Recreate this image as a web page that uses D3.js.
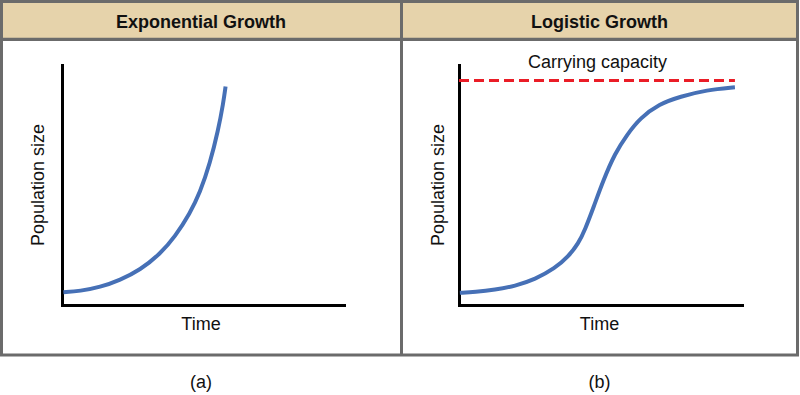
<!DOCTYPE html>
<html>
<head>
<meta charset="utf-8">
<script src="https://cdn.jsdelivr.net/npm/d3@7"></script>
<style>
  body { margin: 0; background: #fff; }
  text { font-family: "Liberation Sans", Arial, sans-serif; fill: #111; }
</style>
</head>
<body>
<div id="chart"></div>
<script>
// values (time 0-100, population 0-100)
const panelTitles = ["Exponential Growth", "Logistic Growth"];
const panelLabels = ["(a)", "(b)"];
const expTime = [0.5, 6.4, 13.5, 20.6, 27.7, 34.8, 40.1, 45.4, 48.9, 52.5, 55.4, 57.2, 58.0];
const expPop  = [5.3, 5.8, 7.4, 10.4, 14.6, 21.3, 28.5, 38.3, 46.7, 59.2, 72.9, 84.2, 91.0];
const logTime = [0.3, 5.7, 12.7, 19.8, 26.9, 33.9, 38.6, 42.2, 44.5, 47.5, 51.0, 55.1, 59.3, 63.9, 70.8, 78.1, 87.5, 97.5];
const logPop  = [5.1, 5.4, 6.3, 7.9, 10.7, 15.3, 20.1, 25.7, 31.3, 40.6, 52.0, 63.2, 70.8, 77.8, 83.8, 86.8, 89.6, 90.7];
const capacity = 93.5;
const capacitySpan = [0, 97.5];

const width = 800, height = 395;
const frameColor = "#6b6b6b";
const blue = "#4670b6";

const svg = d3.select("#chart").append("svg")
    .attr("width", width)
    .attr("height", height);

// header strip
svg.append("rect")
    .attr("x", 3).attr("y", 3)
    .attr("width", 794).attr("height", 35)
    .attr("fill", "#e6d3ab");

// frame
svg.append("rect")
    .attr("x", 1.5).attr("y", 1.5)
    .attr("width", 796).attr("height", 353.5)
    .attr("fill", "none")
    .attr("stroke", frameColor)
    .attr("stroke-width", 3);
svg.append("line")
    .attr("x1", 0).attr("x2", 799)
    .attr("y1", 39.3).attr("y2", 39.3)
    .attr("stroke", frameColor).attr("stroke-width", 3.3);
svg.append("line")
    .attr("x1", 401.5).attr("x2", 401.5)
    .attr("y1", 0).attr("y2", 356)
    .attr("stroke", frameColor).attr("stroke-width", 3);

const panels = [
  {x0: 62, x1: 344, cx: 201, labelX: 44, time: expTime, pop: expPop},
  {x0: 459, x1: 742, cx: 599.5, labelX: 444, time: logTime, pop: logPop}
];

const y = d3.scaleLinear().domain([0, 100]).range([305, 65]);

panels.forEach((p, i) => {
  const x = d3.scaleLinear().domain([0, 100]).range([p.x0, p.x1]);
  const g = svg.append("g");

  g.append("text")
      .attr("x", p.cx).attr("y", 27.5)
      .attr("text-anchor", "middle")
      .attr("font-size", 18).attr("font-weight", "bold")
      .text(panelTitles[i]);

  // axes without ticks
  const xAxis = g.append("g")
      .attr("transform", `translate(0,${y(0)})`)
      .call(d3.axisBottom(x).tickValues([]).tickSizeOuter(0));
  const yAxis = g.append("g")
      .attr("transform", `translate(${x(0)},0)`)
      .call(d3.axisLeft(y).tickValues([]).tickSizeOuter(0));
  [xAxis, yAxis].forEach(a => a.select(".domain")
      .attr("stroke", "#000")
      .attr("stroke-width", 3)
      .attr("stroke-linecap", "square"));

  g.append("text")
      .attr("x", p.cx).attr("y", 330)
      .attr("text-anchor", "middle")
      .attr("font-size", 18)
      .text("Time");

  g.append("text")
      .attr("transform", `translate(${p.labelX},${y(50)}) rotate(-90)`)
      .attr("text-anchor", "middle")
      .attr("font-size", 18)
      .text("Population size");

  g.append("text")
      .attr("x", p.cx).attr("y", 387.5)
      .attr("text-anchor", "middle")
      .attr("font-size", 18)
      .text(panelLabels[i]);

  if (i === 1) {
    g.append("line")
        .attr("x1", x(capacitySpan[0])).attr("x2", x(capacitySpan[1]))
        .attr("y1", y(capacity)).attr("y2", y(capacity))
        .attr("stroke", "#ea1d27")
        .attr("stroke-width", 3)
        .attr("stroke-dasharray", "10,5");
    g.append("text")
        .attr("x", p.cx - 2).attr("y", 68)
        .attr("text-anchor", "middle")
        .attr("font-size", 18)
        .text("Carrying capacity");
  }

  const line = d3.line()
      .x(d => x(d[0]))
      .y(d => y(d[1]))
      .curve(d3.curveBasis);

  g.append("path")
      .datum(d3.zip(p.time, p.pop))
      .attr("fill", "none")
      .attr("stroke", blue)
      .attr("stroke-width", 4)
      .attr("d", line);
});
</script>
</body>
</html>
